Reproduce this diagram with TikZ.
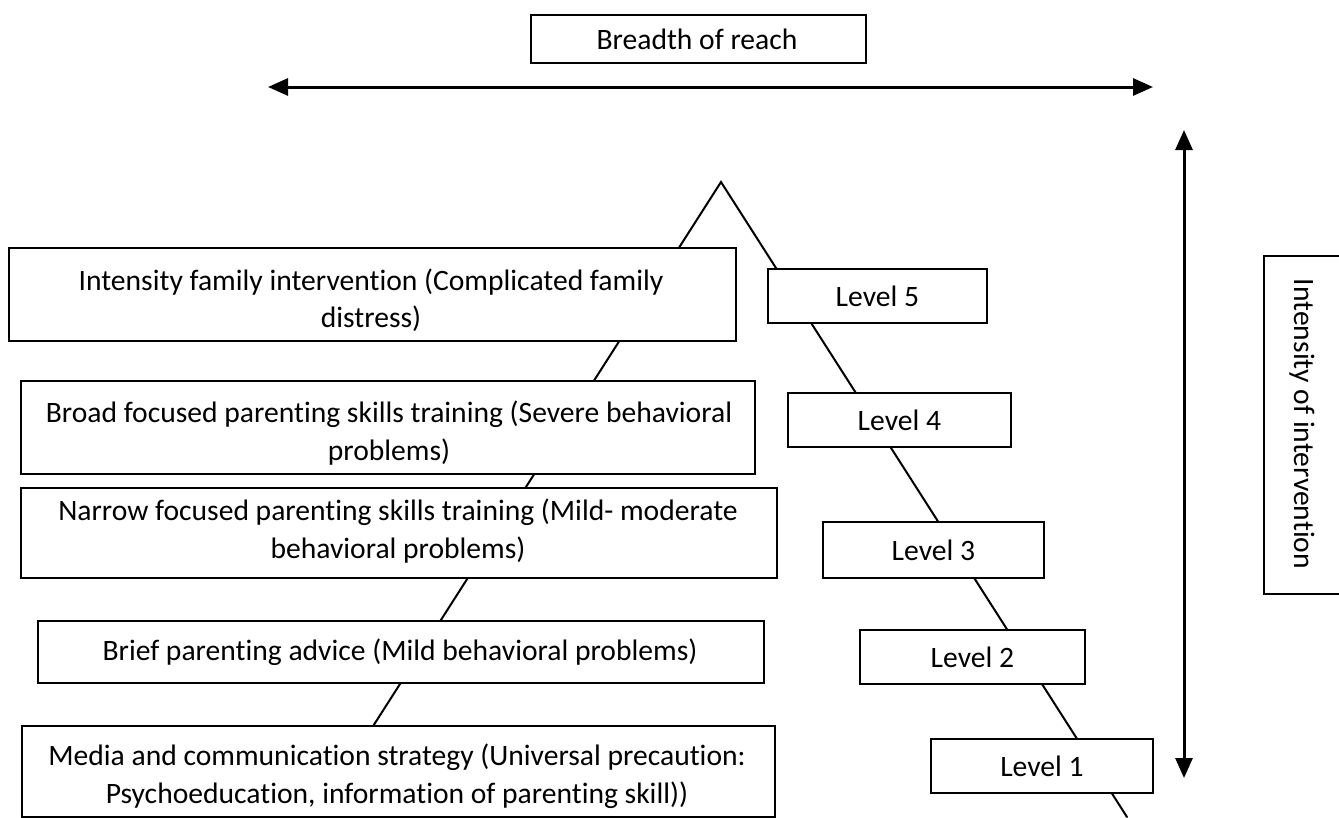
\documentclass[tikz,border=0pt]{standalone}
\usepackage{fontspec}
\setmainfont[Ligatures=NoCommon]{Carlito}
\usetikzlibrary{arrows.meta}
\tikzset{
  x=1pt, y=-1pt,
  boxframe/.style={draw=black, line width=1.8pt, fill=white, inner sep=0pt, anchor=north west},
  txt/.style={font=\fontsize{29.6}{37.5}\selectfont, align=center, inner sep=0pt},
  tri/.style={line width=2pt, line cap=round},
  dbl/.style={line width=3pt, {Triangle[length=20pt,width=17pt]}-{Triangle[length=20pt,width=17pt]}},
}
\newcommand{\boxat}[5]{% name, x1, y1, x2, y2
  \path (#2,#3) coordinate (#1nw) (#4,#5) coordinate (#1se);
  \node[boxframe, minimum width={(#4-#2)*1pt}, minimum height={(#5-#3)*1pt}] (#1) at (#1nw) {};
}
\begin{document}
\begin{tikzpicture}
\useasboundingbox (0,0) rectangle (1339,817);
\fill[white] (0,0) rectangle (1339,817);

% triangle
\coordinate (apex) at (721,182);
\coordinate (lfoot) at (345,770);
\coordinate (rfoot) at (1127,817);
\draw[tri] (lfoot) -- (apex) -- (rfoot);

% axes arrows
\coordinate (h1) at (268,87);
\coordinate (h2) at (1153,87);
\draw[dbl] (h1) -- (h2);
\coordinate (v1) at (1184,130);
\coordinate (v2) at (1184,778);
\draw[dbl] (v1) -- (v2);

% top label
\boxat{top}{530}{14}{865}{62}
\node[txt] (toptxt) at (697,39) {Breadth of reach};

% right label
\boxat{rt}{1263}{255}{1345}{593}
\node[txt, rotate=-90] (rttxt) at (1302,424) {Intensity of intervention};

% left boxes
\boxat{b1}{8}{247}{735}{340}
\node[txt] (b1t) at (371,300) {Intensity family intervention (Complicated family\\distress)};
\boxat{b2}{20}{380}{754}{473}
\node[txt] (b2t) at (389,433) {Broad focused parenting skills training (Severe behavioral\\problems)};
\boxat{b3}{20}{487}{776}{577}
\node[txt] (b3t) at (398,531) {Narrow focused parenting skills training (Mild- moderate\\behavioral problems)};
\boxat{b4}{37}{620}{763}{682}
\node[txt] (b4t) at (400,652) {Brief parenting advice (Mild behavioral problems)};
\boxat{b5}{21}{725}{774}{816}
\node[txt] (b5t) at (397,776) {Media and communication strategy (Universal precaution:\\Psychoeducation, information of parenting skill))};

% level boxes
\boxat{l5}{767}{268}{986}{322}
\node[txt] (l5t) at (l5.center) {Level 5};
\boxat{l4}{787}{392}{1010}{446}
\node[txt] (l4t) at (l4.center) {Level 4};
\boxat{l3}{822}{521}{1043}{577}
\node[txt] (l3t) at (l3.center) {Level 3};
\boxat{l2}{859}{629}{1084}{683}
\node[txt] (l2t) at (l2.center) {Level 2};
\boxat{l1}{930}{738}{1152}{792}
\node[txt] (l1t) at (l1.center) {Level 1};
\end{tikzpicture}
\end{document}
